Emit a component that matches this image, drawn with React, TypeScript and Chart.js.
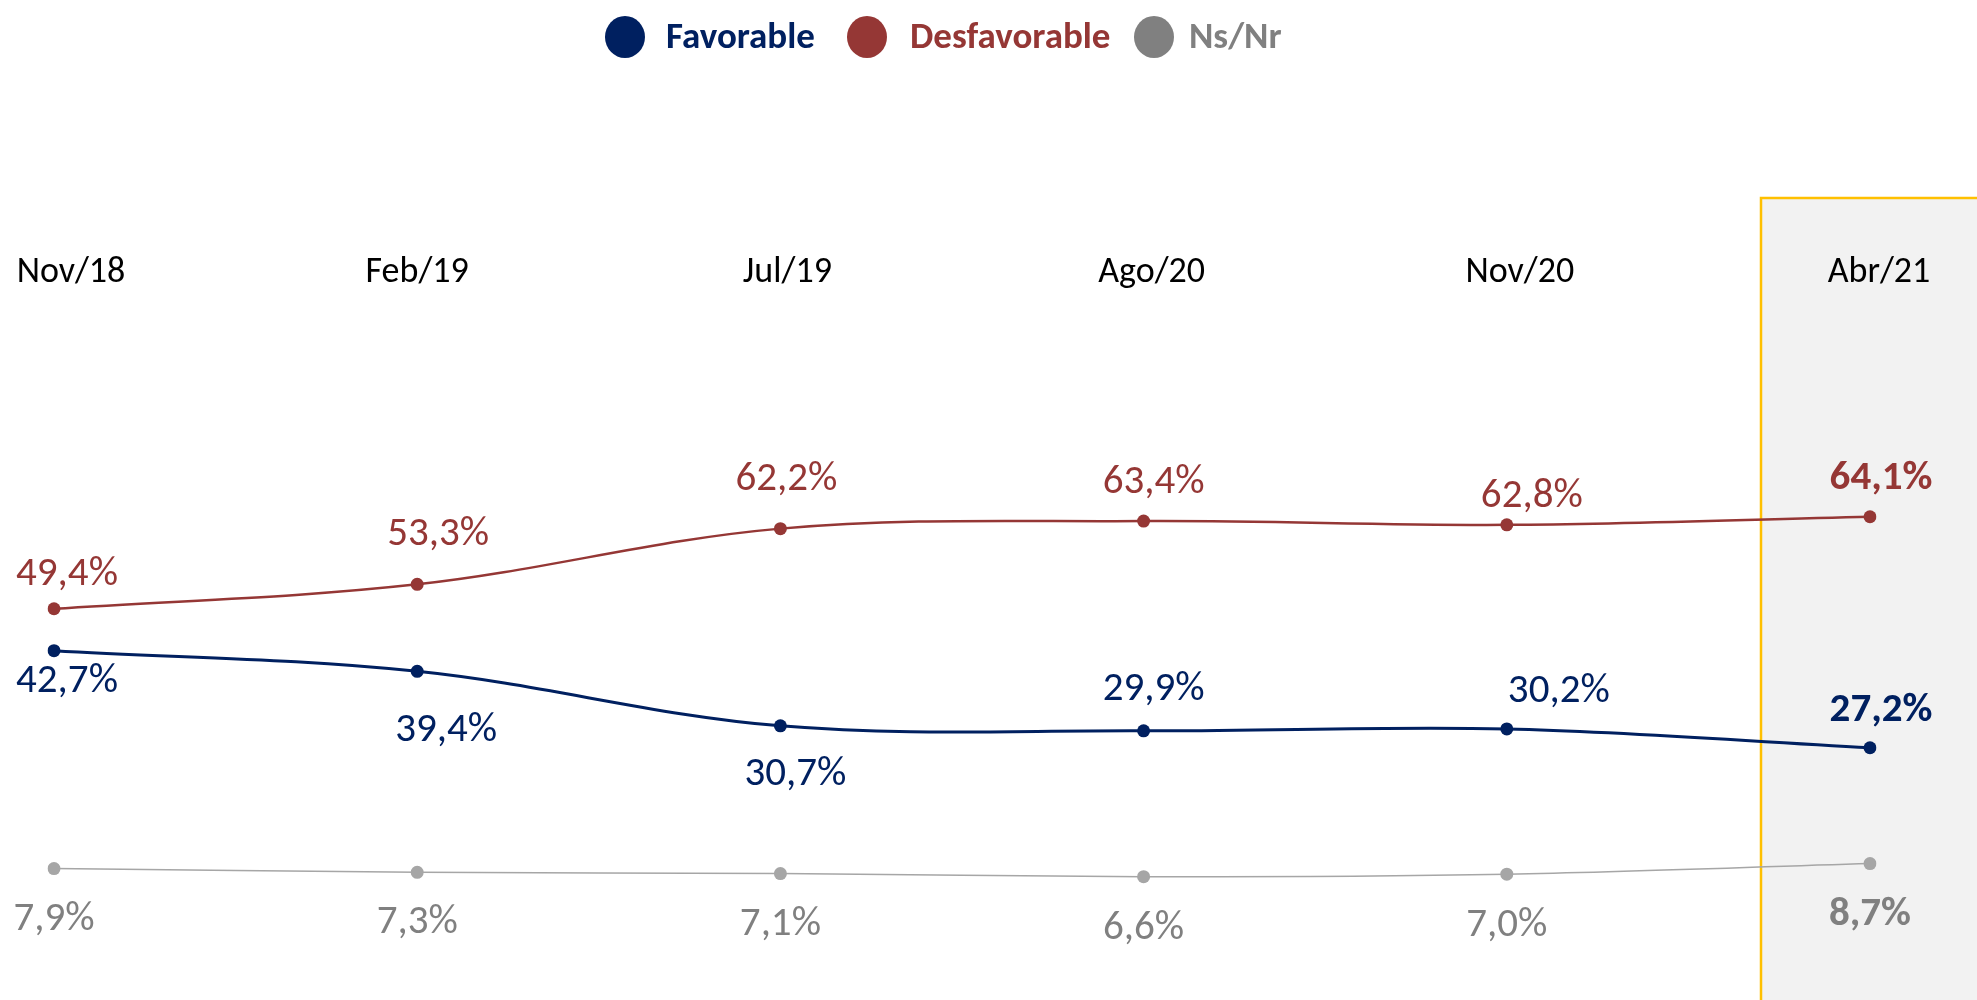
import { useEffect, useRef } from 'react';
import { Chart, registerables } from 'chart.js';

Chart.register(...registerables);

// ---- data ----
const categories = ['Nov/18', 'Feb/19', 'Jul/19', 'Ago/20', 'Nov/20', 'Abr/21'];
const favorable = [42.7, 39.4, 30.7, 29.9, 30.2, 27.2];
const desfavorable = [49.4, 53.3, 62.2, 63.4, 62.8, 64.1];
const nsnr = [7.9, 7.3, 7.1, 6.6, 7.0, 8.7];
const seriesNames = ['Favorable', 'Desfavorable', 'Ns/Nr'];

// ---- styling / label placement (relative offsets) ----
const COLORS = { fav: '#002060', des: '#953735', ns: '#A6A6A6', nsText: '#808080' };
const FONT = 'Carlito, Lato, sans-serif';
const favLabelDx = [13, 29, 15, 10, 52, 11];
const favLabelDy = [27, 55, 45, -45, -41, -41];
const desLabelDx = [13, 21, 6, 10, 25, 11];
const desLabelDy = [-38, -54, -53, -42, -32, -42];
const nsLabelDx = [0, 0, 0, 0, 0, 0];
const nsLabelDy = [47, 46, 47, 48, 48, 47];
const catLabelDx = [17, 0, 7, 8, 13, 9];
const LABEL_SHIFT = 4;

const fmt = (v: number) => v.toFixed(1).replace('.', ',') + '%';

export default function App() {
  const ref = useRef<HTMLCanvasElement>(null);

  useEffect(() => {
    document.body.style.margin = '0';
    const canvas = ref.current!;
    const lastIdx = categories.length - 1;

    const overlay = {
      id: 'overlay',
      beforeDatasetsDraw(chart: any) {
        const c = chart.ctx;
        const xs = chart.scales.x;
        const left = xs.getPixelForValue(lastIdx) - 109;
        c.save();
        c.fillStyle = '#F2F2F2';
        c.fillRect(left, 198, 2000 - left, 900);
        c.strokeStyle = '#FFC000';
        c.lineWidth = 2.5;
        c.beginPath();
        c.moveTo(left, 1010);
        c.lineTo(left, 198);
        c.lineTo(2000, 198);
        c.stroke();
        c.restore();
      },
      afterDatasetsDraw(chart: any) {
        const c = chart.ctx;
        const xs = chart.scales.x;
        const ys = chart.scales.y;
        c.save();
        c.textAlign = 'center';
        c.textBaseline = 'middle';
        // category labels
        c.fillStyle = '#000000';
        c.font = `36px ${FONT}`;
        categories.forEach((lab, i) => {
          c.fillText(lab, xs.getPixelForValue(i) + catLabelDx[i], 273);
        });
        // data labels
        const groups = [
          { data: favorable, color: COLORS.fav, dx: favLabelDx, dy: favLabelDy },
          { data: desfavorable, color: COLORS.des, dx: desLabelDx, dy: desLabelDy },
          { data: nsnr, color: COLORS.nsText, dx: nsLabelDx, dy: nsLabelDy },
        ];
        groups.forEach((g) => {
          c.fillStyle = g.color;
          g.data.forEach((v, i) => {
            c.font = `${i === lastIdx ? 'bold ' : ''}41px ${FONT}`;
            c.fillText(fmt(v), xs.getPixelForValue(i) + g.dx[i], ys.getPixelForValue(v) + g.dy[i] + LABEL_SHIFT);
          });
        });
        // legend
        const legend = [
          { name: seriesNames[0], dot: COLORS.fav, text: COLORS.fav, cx: 625, tx: 666 },
          { name: seriesNames[1], dot: COLORS.des, text: COLORS.des, cx: 867, tx: 910 },
          { name: seriesNames[2], dot: '#808080', text: '#808080', cx: 1154, tx: 1189 },
        ];
        c.textAlign = 'left';
        c.font = `bold 37px ${FONT}`;
        legend.forEach((l) => {
          c.fillStyle = l.dot;
          c.beginPath();
          c.ellipse(l.cx, 37, 20, 21, 0, 0, Math.PI * 2);
          c.fill();
          c.fillStyle = l.text;
          c.fillText(l.name, l.tx, 39);
        });
        c.restore();
      },
    };

    const chart = new Chart(canvas, {
      type: 'line',
      data: {
        labels: categories,
        datasets: [
          {
            label: seriesNames[0],
            data: favorable,
            borderColor: COLORS.fav,
            backgroundColor: COLORS.fav,
            borderWidth: 3,
            pointRadius: 6.5,
            pointBorderWidth: 0,
            tension: 0.35,
          },
          {
            label: seriesNames[1],
            data: desfavorable,
            borderColor: COLORS.des,
            backgroundColor: COLORS.des,
            borderWidth: 2.5,
            pointRadius: 6.5,
            pointBorderWidth: 0,
            tension: 0.35,
          },
          {
            label: seriesNames[2],
            data: nsnr,
            borderColor: COLORS.ns,
            backgroundColor: COLORS.ns,
            borderWidth: 1.5,
            pointRadius: 6.5,
            pointBorderWidth: 0,
            tension: 0.35,
          },
        ],
      },
      options: {
        responsive: false,
        animation: false,
        devicePixelRatio: 1,
        layout: { padding: { left: 54, right: 107, top: 292, bottom: 82 } },
        plugins: { legend: { display: false }, tooltip: { enabled: false } },
        scales: {
          x: { display: false, offset: false },
          y: { display: false, min: 0, max: 100 },
        },
      },
      plugins: [overlay],
    });
    return () => chart.destroy();
  }, []);

  return (
    <div style={{ position: 'fixed', left: 0, top: 0, width: 1977, height: 1000, background: '#fff' }}>
      <canvas ref={ref} width={1977} height={1000} style={{ width: 1977, height: 1000, display: 'block' }} />
    </div>
  );
}
